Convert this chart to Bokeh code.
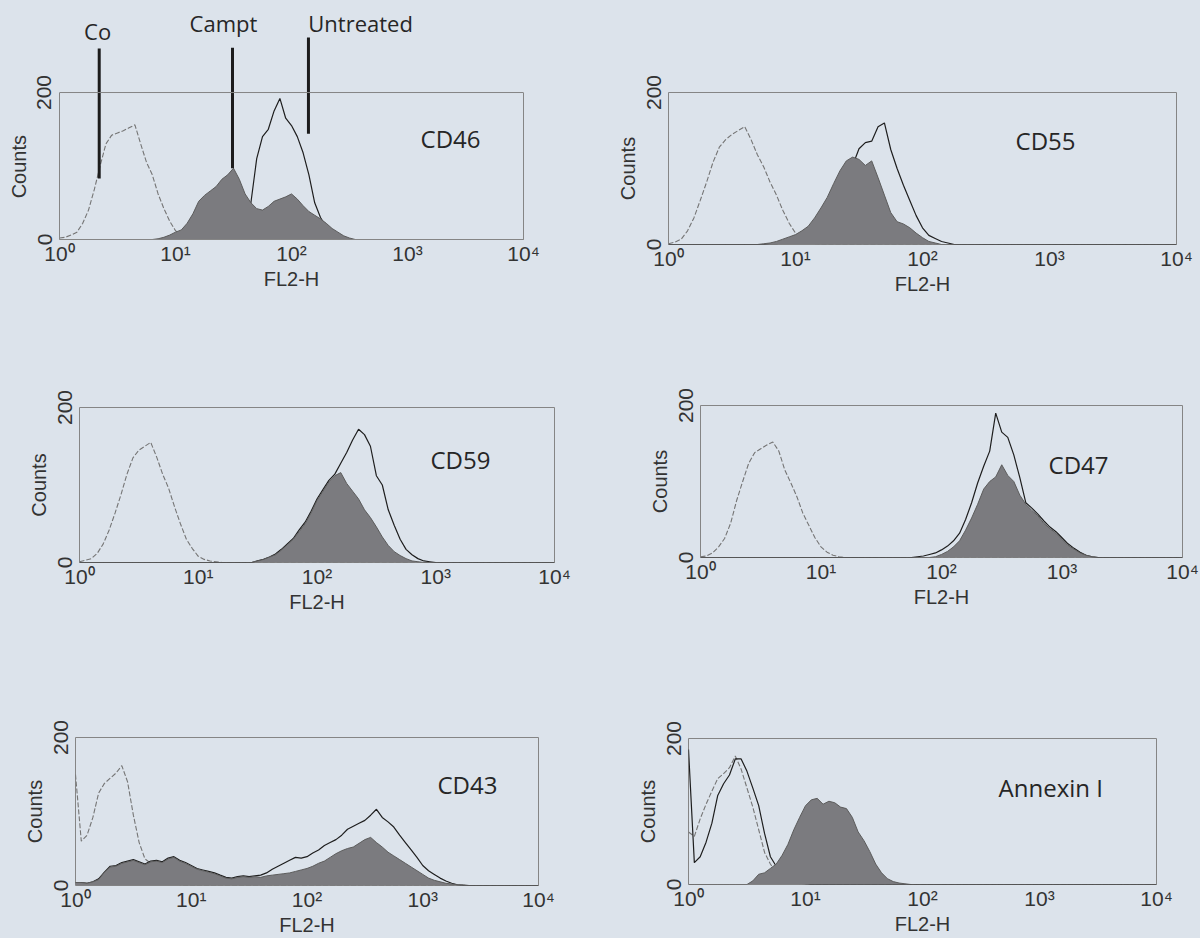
from bokeh.plotting import figure
from bokeh.layouts import row, column
from bokeh.models import (Range1d, FixedTicker, CustomJSTickFormatter, Label, Span,
                          LinearAxis)
from bokeh.embed import file_html
from bokeh.resources import INLINE

# ---------------- data ----------------
# FL2-H channel values (log spaced, 20 per decade)
fl2 = [1, 1.122, 1.259, 1.413, 1.585, 1.778, 1.995, 2.239, 2.512, 2.818,
       3.162, 3.548, 3.981, 4.467, 5.012, 5.623, 6.310, 7.079, 7.943, 8.913,
       10.0, 11.22, 12.59, 14.13, 15.85, 17.78, 19.95, 22.39, 25.12, 28.18,
       31.62, 35.48, 39.81, 44.67, 50.12, 56.23, 63.10, 70.79, 79.43, 89.13,
       100, 112.2, 125.9, 141.3, 158.5, 177.8, 199.5, 223.9, 251.2, 281.8,
       316.2, 354.8, 398.1, 446.7, 501.2, 562.3, 631.0, 707.9, 794.3, 891.3,
       1000, 1122, 1259, 1413, 1585, 1778, 1995, 2239, 2512, 2818,
       3162, 3548, 3981, 4467, 5012, 5623, 6310, 7079, 7943, 8913,
       10000]

cd46_co = [2, 3, 6, 10, 22, 40, 68, 100, 130, 142,
           145, 148, 152, 156, 130, 105, 88, 62, 42, 25,
           12, 5, 2, 1, 0, 0, 0, 0, 0, 0,
           0, 0, 0, 0, 0, 0, 0, 0, 0, 0,
           0, 0, 0, 0, 0, 0, 0, 0, 0, 0,
           0, 0, 0, 0, 0, 0, 0, 0, 0, 0,
           0, 0, 0, 0, 0, 0, 0, 0, 0, 0,
           0, 0, 0, 0, 0, 0, 0, 0, 0, 0,
           0]
cd46_campt = [0, 0, 0, 0, 0, 0, 0, 0, 0, 0,
              0, 0, 0, 0, 0, 0, 0, 1, 3, 6,
              10, 13, 22, 35, 52, 60, 66, 72, 82, 88,
              97, 82, 62, 50, 42, 40, 45, 52, 55, 58,
              62, 55, 46, 38, 33, 28, 22, 15, 10, 5,
              2, 0, 0, 0, 0, 0, 0, 0, 0, 0,
              0, 0, 0, 0, 0, 0, 0, 0, 0, 0,
              0, 0, 0, 0, 0, 0, 0, 0, 0, 0,
              0]
cd46_untreated = [0, 0, 0, 0, 0, 0, 0, 0, 0, 0,
                  0, 0, 0, 0, 0, 0, 0, 0, 0, 0,
                  0, 0, 0, 0, 0, 0, 1, 2, 3, 5,
                  8, 15, 25, 50, 110, 140, 150, 175, 192, 165,
                  155, 140, 118, 88, 50, 30, 17, 8, 4, 2,
                  0, 0, 0, 0, 0, 0, 0, 0, 0, 0,
                  0, 0, 0, 0, 0, 0, 0, 0, 0, 0,
                  0, 0, 0, 0, 0, 0, 0, 0, 0, 0,
                  0]

cd55_co = [1, 3, 7, 18, 35, 58, 82, 108, 128, 138,
           145, 150, 155, 138, 118, 102, 82, 65, 45, 28,
           15, 7, 3, 1, 0, 0, 0, 0, 0, 0,
           0, 0, 0, 0, 0, 0, 0, 0, 0, 0,
           0, 0, 0, 0, 0, 0, 0, 0, 0, 0,
           0, 0, 0, 0, 0, 0, 0, 0, 0, 0,
           0, 0, 0, 0, 0, 0, 0, 0, 0, 0,
           0, 0, 0, 0, 0, 0, 0, 0, 0, 0,
           0]
cd55_campt = [0, 0, 0, 0, 0, 0, 0, 0, 0, 0,
              0, 0, 0, 0, 0, 1, 2, 4, 7, 10,
              13, 18, 24, 35, 48, 62, 80, 97, 110, 115,
              112, 104, 110, 88, 65, 42, 30, 27, 22, 15,
              9, 4, 2, 0, 0, 0, 0, 0, 0, 0,
              0, 0, 0, 0, 0, 0, 0, 0, 0, 0,
              0, 0, 0, 0, 0, 0, 0, 0, 0, 0,
              0, 0, 0, 0, 0, 0, 0, 0, 0, 0,
              0]
cd55_untreated = [0, 0, 0, 0, 0, 0, 0, 0, 0, 0,
                  0, 0, 0, 0, 0, 0, 1, 1, 2, 4,
                  6, 10, 16, 24, 35, 46, 60, 76, 90, 104,
                  126, 134, 136, 155, 160, 125, 100, 78, 58, 38,
                  22, 12, 8, 4, 2, 0, 0, 0, 0, 0,
                  0, 0, 0, 0, 0, 0, 0, 0, 0, 0,
                  0, 0, 0, 0, 0, 0, 0, 0, 0, 0,
                  0, 0, 0, 0, 0, 0, 0, 0, 0, 0,
                  0]

cd59_co = [1, 3, 5, 12, 24, 42, 64, 88, 114, 135,
           145, 150, 155, 136, 114, 96, 72, 50, 30, 18,
           8, 4, 2, 1, 0, 0, 0, 0, 0, 0,
           0, 0, 0, 0, 0, 0, 0, 0, 0, 0,
           0, 0, 0, 0, 0, 0, 0, 0, 0, 0,
           0, 0, 0, 0, 0, 0, 0, 0, 0, 0,
           0, 0, 0, 0, 0, 0, 0, 0, 0, 0,
           0, 0, 0, 0, 0, 0, 0, 0, 0, 0,
           0]
cd59_campt = [0, 0, 0, 0, 0, 0, 0, 0, 0, 0,
              0, 0, 0, 0, 0, 0, 0, 0, 0, 0,
              0, 0, 0, 0, 0, 0, 0, 0, 0, 0,
              2, 4, 7, 10, 16, 23, 30, 40, 50, 64,
              80, 92, 104, 112, 116, 102, 92, 82, 68, 58,
              46, 33, 22, 14, 9, 5, 2, 1, 0, 0,
              0, 0, 0, 0, 0, 0, 0, 0, 0, 0,
              0, 0, 0, 0, 0, 0, 0, 0, 0, 0,
              0]
cd59_untreated = [0, 0, 0, 0, 0, 0, 0, 0, 0, 0,
                  0, 0, 0, 0, 0, 0, 0, 0, 0, 0,
                  0, 0, 0, 0, 0, 0, 0, 0, 0, 0,
                  2, 4, 7, 11, 17, 24, 31, 42, 52, 66,
                  82, 94, 106, 114, 128, 142, 158, 172, 165, 150,
                  112, 100, 68, 48, 30, 17, 10, 5, 2, 1,
                  0, 0, 0, 0, 0, 0, 0, 0, 0, 0,
                  0, 0, 0, 0, 0, 0, 0, 0, 0, 0,
                  0]

cd47_co = [1, 2, 6, 14, 25, 45, 75, 100, 124, 138,
           143, 148, 152, 140, 115, 98, 80, 58, 42, 26,
           14, 7, 3, 1, 0, 0, 0, 0, 0, 0,
           0, 0, 0, 0, 0, 0, 0, 0, 0, 0,
           0, 0, 0, 0, 0, 0, 0, 0, 0, 0,
           0, 0, 0, 0, 0, 0, 0, 0, 0, 0,
           0, 0, 0, 0, 0, 0, 0, 0, 0, 0,
           0, 0, 0, 0, 0, 0, 0, 0, 0, 0,
           0]
cd47_campt = [0, 0, 0, 0, 0, 0, 0, 0, 0, 0,
              0, 0, 0, 0, 0, 0, 0, 0, 0, 0,
              0, 0, 0, 0, 0, 0, 0, 0, 0, 0,
              0, 0, 0, 0, 0, 0, 0, 0, 0, 1,
              4, 8, 14, 22, 36, 52, 70, 90, 100, 106,
              122, 108, 100, 82, 70, 62, 55, 45, 38, 32,
              24, 16, 11, 6, 3, 1, 0, 0, 0, 0,
              0, 0, 0, 0, 0, 0, 0, 0, 0, 0,
              0]
cd47_untreated = [0, 0, 0, 0, 0, 0, 0, 0, 0, 0,
                  0, 0, 0, 0, 0, 0, 0, 0, 0, 0,
                  0, 0, 0, 0, 0, 0, 0, 0, 0, 0,
                  0, 0, 0, 0, 0, 0, 1, 2, 4, 6,
                  10, 15, 22, 32, 50, 72, 98, 120, 140, 190,
                  165, 158, 135, 105, 72, 65, 57, 48, 40, 34,
                  26, 18, 12, 7, 3, 1, 0, 0, 0, 0,
                  0, 0, 0, 0, 0, 0, 0, 0, 0, 0,
                  0]

cd43_co = [150, 60, 68, 92, 125, 138, 145, 152, 162, 140,
           95, 58, 36, 30, 14, 7, 4, 2, 1, 0,
           0, 0, 0, 0, 0, 0, 0, 0, 0, 0,
           0, 0, 0, 0, 0, 0, 0, 0, 0, 0,
           0, 0, 0, 0, 0, 0, 0, 0, 0, 0,
           0, 0, 0, 0, 0, 0, 0, 0, 0, 0,
           0, 0, 0, 0, 0, 0, 0, 0, 0, 0,
           0, 0, 0, 0, 0, 0, 0, 0, 0, 0,
           0]
cd43_campt = [4, 4, 3, 5, 8, 18, 25, 26, 30, 32,
              34, 31, 28, 32, 33, 31, 36, 38, 33, 30,
              26, 22, 20, 18, 16, 13, 10, 9, 11, 12,
              11, 12, 11, 13, 14, 15, 16, 17, 19, 21,
              23, 26, 30, 33, 38, 43, 47, 50, 52, 57,
              62, 65, 58, 52, 45, 40, 35, 30, 25, 20,
              15, 10, 7, 5, 3, 2, 1, 1, 0, 0,
              0, 0, 0, 0, 0, 0, 0, 0, 0, 0,
              0]
cd43_untreated = [4, 4, 3, 5, 9, 18, 26, 27, 31, 33,
                  35, 32, 29, 33, 34, 32, 37, 39, 34, 31,
                  27, 23, 21, 19, 17, 14, 11, 10, 12, 13,
                  12, 13, 14, 17, 22, 26, 30, 34, 38, 37,
                  39, 44, 48, 54, 58, 62, 68, 76, 80, 84,
                  88, 95, 103, 92, 86, 79, 68, 58, 48, 38,
                  27, 20, 15, 10, 6, 3, 1, 0, 0, 0,
                  0, 0, 0, 0, 0, 0, 0, 0, 0, 0,
                  0]

annexin_co = [72, 66, 90, 110, 128, 145, 152, 160, 176, 158,
              132, 106, 75, 44, 28, 16, 9, 5, 3, 1,
              0, 0, 0, 0, 0, 0, 0, 0, 0, 0,
              0, 0, 0, 0, 0, 0, 0, 0, 0, 0,
              0, 0, 0, 0, 0, 0, 0, 0, 0, 0,
              0, 0, 0, 0, 0, 0, 0, 0, 0, 0,
              0, 0, 0, 0, 0, 0, 0, 0, 0, 0,
              0, 0, 0, 0, 0, 0, 0, 0, 0, 0,
              0]
annexin_campt = [0, 0, 0, 0, 0, 0, 0, 0, 0, 0,
                 0, 5, 14, 16, 22, 28, 40, 55, 75, 92,
                 108, 116, 118, 110, 114, 112, 106, 104, 92, 72,
                 60, 45, 28, 16, 8, 4, 2, 1, 0, 0,
                 0, 0, 0, 0, 0, 0, 0, 0, 0, 0,
                 0, 0, 0, 0, 0, 0, 0, 0, 0, 0,
                 0, 0, 0, 0, 0, 0, 0, 0, 0, 0,
                 0, 0, 0, 0, 0, 0, 0, 0, 0, 0,
                 0]
annexin_untreated = [185, 30, 38, 58, 84, 122, 138, 150, 172, 172,
                     155, 132, 108, 70, 38, 25, 15, 9, 5, 3,
                     1, 0, 0, 0, 0, 0, 0, 0, 0, 0,
                     0, 0, 0, 0, 0, 0, 0, 0, 0, 0,
                     0, 0, 0, 0, 0, 0, 0, 0, 0, 0,
                     0, 0, 0, 0, 0, 0, 0, 0, 0, 0,
                     0, 0, 0, 0, 0, 0, 0, 0, 0, 0,
                     0, 0, 0, 0, 0, 0, 0, 0, 0, 0,
                     0]

panel_names = ["CD46", "CD55", "CD59", "CD47", "CD43", "Annexin I"]
x_ticks = [1, 10, 100, 1000, 10000]
y_ticks = [0, 200]

# legend markers of the first panel (FL2-H position, count range)
marker_names = ["Co", "Campt", "Untreated"]
marker_fl2 = [2.2, 31, 140]
marker_lo = [83, 97, 144]
marker_hi = [260, 261, 275]

for s in [cd46_co, cd46_campt, cd46_untreated, cd55_co, cd55_campt, cd55_untreated,
          cd59_co, cd59_campt, cd59_untreated, cd47_co, cd47_campt, cd47_untreated,
          cd43_co, cd43_campt, cd43_untreated, annexin_co, annexin_campt, annexin_untreated]:
    assert len(s) == len(fl2)

# ---------------- styling / layout ----------------
BG = "#dce3eb"
FRAME = "#858585"
SUP_JS = """
const sup = ["\u2070", "\u00b9", "\u00b2", "\u00b3", "\u2074"];
const e = Math.round(Math.log10(tick));
return "10" + sup[e];
"""

# width, height, min borders (left, right, top, bottom), y-range top, name label position (data)
layout_cfg = [
    (600, 306, 59, 77, 10, 67, 311.6, 1295, 137),
    (600, 306, 68, 24, 92, 62, 200, 540, 137),
    (600, 315, 79, 46, 101, 59, 200, 903, 133),
    (600, 315, 100, 18, 99, 64, 200, 773, 122),
    (600, 317, 75, 62, 116, 53, 200, 1341, 136),
    (600, 317, 88, 44, 117, 54, 200, 447, 133),
]


def make_panel(name, co, campt, untreated, cfg):
    w, h, left, right, top, bottom, ytop, lx, ly = cfg
    p = figure(width=w, height=h, x_axis_type="log",
               x_range=Range1d(1, 10000), y_range=Range1d(0, ytop),
               output_backend="svg", toolbar_location=None,
               min_border_left=left, min_border_right=right,
               min_border_top=top, min_border_bottom=bottom)
    p.background_fill_color = BG
    p.border_fill_color = BG
    p.outline_line_color = FRAME
    p.outline_line_width = 1
    p.xgrid.visible = False
    p.ygrid.visible = False

    p.line(fl2, co, line_color="#757575", line_width=1.1, line_dash="5 2")
    p.line(fl2, untreated, line_color="#1e1e1e", line_width=1.2)
    p.varea(x=fl2, y1=0, y2=campt, fill_color="#7b7b7f")
    p.line(fl2, campt, line_color="#5c5c5c", line_width=1)

    for ax in (p.xaxis[0], p.yaxis[0]):
        ax.axis_line_color = None
        ax.major_tick_out = 0
        ax.major_tick_in = 0
        ax.minor_tick_out = 0
        ax.minor_tick_in = 0
        ax.major_label_text_font = "Liberation Sans"
        ax.major_label_text_font_size = "21px"
        ax.major_label_text_color = "#333333"
        ax.axis_label_text_font = "Liberation Sans"
        ax.axis_label_text_font_style = "normal"
        ax.axis_label_text_font_size = "20px"
        ax.axis_label_text_color = "#333333"

    xa = p.xaxis[0]
    xa.ticker = FixedTicker(ticks=x_ticks)
    xa.formatter = CustomJSTickFormatter(code=SUP_JS)
    xa.axis_label = "FL2-H"
    xa.major_label_standoff = 2
    xa.axis_label_standoff = 0

    ya = p.yaxis[0]
    ya.ticker = FixedTicker(ticks=y_ticks)
    ya.major_label_orientation = "vertical"
    ya.axis_label = "Counts"
    ya.major_label_standoff = 8
    ya.axis_label_standoff = 5

    p.add_layout(Label(x=lx, y=ly, text=name, text_font="Open Sans",
                       text_font_size="24px", text_baseline="middle",
                       text_color="#262626"))
    return p


figs = []
series = [
    (cd46_co, cd46_campt, cd46_untreated),
    (cd55_co, cd55_campt, cd55_untreated),
    (cd59_co, cd59_campt, cd59_untreated),
    (cd47_co, cd47_campt, cd47_untreated),
    (cd43_co, cd43_campt, cd43_untreated),
    (annexin_co, annexin_campt, annexin_untreated),
]
for name, (co, ca, un), cfg in zip(panel_names, series, layout_cfg):
    figs.append(make_panel(name, co, ca, un, cfg))

# first panel: the frame is drawn only up to 200 counts, markers rise above it
p1 = figs[0]
p1.outline_line_color = None
p1.xaxis[0].axis_line_color = FRAME
p1.yaxis[0].axis_line_color = FRAME
p1.yaxis[0].bounds = (y_ticks[0], y_ticks[-1])
# keep the axis title centred on the 0-200 box (padding sits above the word)
p1.yaxis[0].axis_label = "Counts" + "\u00a0" * 15
right_ax = LinearAxis(bounds=(y_ticks[0], y_ticks[-1]), ticker=FixedTicker(ticks=[]),
                      axis_line_color=FRAME, major_tick_out=0, major_tick_in=0,
                      minor_tick_out=0, minor_tick_in=0, major_label_text_font_size="0px")
p1.add_layout(right_ax, "right")
p1.add_layout(Span(location=y_ticks[-1], dimension="width", line_color=FRAME, line_width=1))

p1.segment(x0=marker_fl2, y0=marker_lo, x1=marker_fl2, y1=marker_hi,
           line_width=3, line_color="#1c1c1c")
label_y = [284, 295, 295]
label_x = [2.13, 25.9, 394]
for nm, tx, ty in zip(marker_names, label_x, label_y):
    p1.add_layout(Label(x=tx, y=ty, text=nm, text_font="Open Sans",
                        text_font_size="22px", text_align="center",
                        text_baseline="middle", text_color="#262626"))

cells = [column(f, styles={"background-color": BG}) for f in figs]
rows = [row(cells[i], cells[i + 1], styles={"background-color": BG}) for i in (0, 2, 4)]
layout = column(*rows, styles={"background-color": BG})

open("out.html", "w").write(file_html(layout, INLINE))
